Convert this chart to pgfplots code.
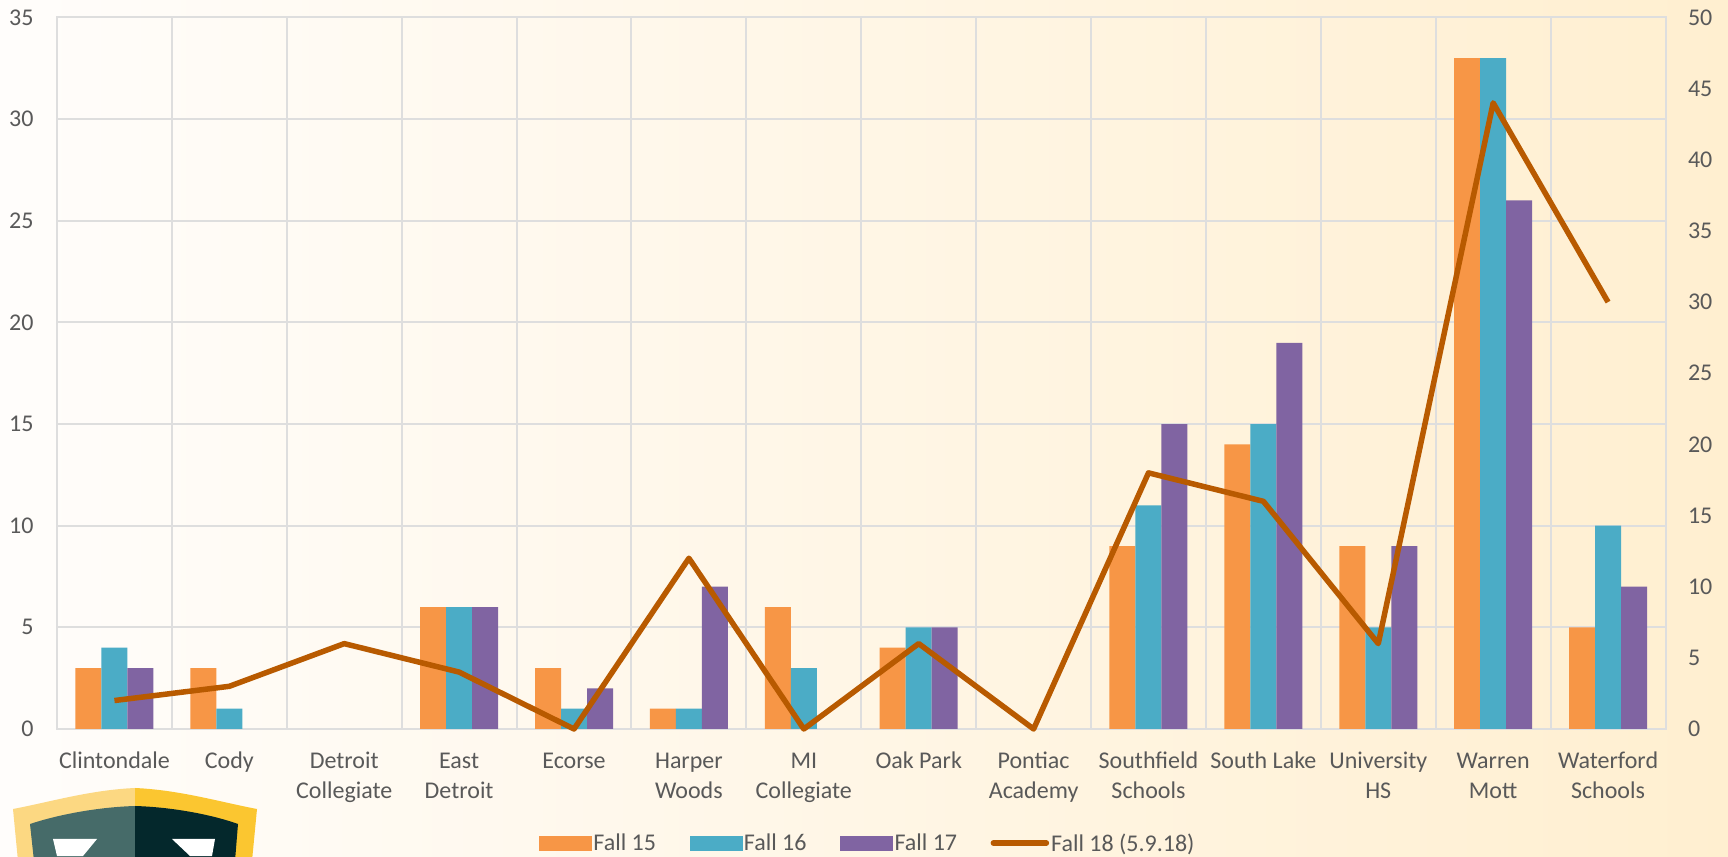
\documentclass[border=0pt]{standalone}
\usepackage{pgfplots}
\pgfplotsset{compat=1.18}
\usepackage{fontspec}
\setmainfont{Carlito}
\definecolor{txt}{HTML}{595959}
\definecolor{gridc}{HTML}{DEDEDE}
\definecolor{cA}{HTML}{F79646}
\definecolor{cB}{HTML}{4BACC6}
\definecolor{cC}{HTML}{8064A2}
\definecolor{cD}{HTML}{B85A00}
\definecolor{bgL}{HTML}{FFFDFB}
\definecolor{bgR}{HTML}{FFEFD0}
\definecolor{goldL}{HTML}{FCD882}
\definecolor{goldR}{HTML}{FBC630}
\definecolor{darkL}{HTML}{466B69}
\definecolor{darkR}{HTML}{04282C}
\newcommand{\s}{\strut}
\begin{document}
\begin{tikzpicture}[x=1pt,y=1pt]
\path[clip] (0,0) rectangle (1728,856);
\shade[left color=bgL, right color=bgR] (0,0) rectangle (1728,856);
% logo
\fill[goldL] (135,68) .. controls (90,66) and (50,54) .. (13,47) -- (18,-5) -- (135,-5) -- cycle;
\fill[goldR] (135,68) .. controls (180,66) and (220,54) .. (257,47) -- (252,-5) -- (135,-5) -- cycle;
\fill[darkL] (135,50) .. controls (100,49) and (60,42) .. (30,32) -- (34,-5) -- (135,-5) -- cycle;
\fill[darkR] (135,50) .. controls (170,49) and (210,42) .. (238,32) -- (235,-5) -- (135,-5) -- cycle;
\fill[white] (53,17) -- (97,17) -- (83,0) -- (57,0) -- cycle;
\fill[white] (172,17) -- (215,17) -- (212,0) -- (190,0) -- cycle;
\begin{axis}[
  at={(57pt,127pt)}, anchor=south west, scale only axis,
  width=1608.5pt, height=711.5pt,
  xmin=-0.5, xmax=13.5, ymin=0, ymax=35,
  ybar=0pt, bar width=26pt,
  axis line style={gridc, line width=2pt},
  xtick={0,...,13},
  xticklabels={\s Clintondale,\s Cody,\s Detroit\\\s Collegiate,\s East\\\s Detroit,\s Ecorse,\s Harper\\\s Woods,\s MI\\\s Collegiate,\s Oak Park,\s Pontiac\\\s Academy,\s Southfield\\\s Schools,\s South Lake,\s University\\\s HS,\s Warren\\\s Mott,\s Waterford\\\s Schools},
  xticklabel style={align=center, text=txt, font=\fontsize{24}{30}\selectfont},
  yticklabel style={text=txt, font=\fontsize{24}{28}\selectfont},
  /pgf/number format/assume math mode=true,
  ytick={0,5,...,35},
  extra x ticks={-0.5,0.5,...,13.5}, extra x tick labels={},
  extra x tick style={grid=major, major grid style={gridc, line width=2pt}, tick style={draw=none}},
  ymajorgrids, grid style={gridc, line width=2pt},
  major tick style={draw=none},
  xticklabel shift=11pt, yticklabel shift=20pt,
]
\addplot[fill=cA, draw=none] coordinates {(0,3)(1,3)(3,6)(4,3)(5,1)(6,6)(7,4)(9,9)(10,14)(11,9)(12,33)(13,5)};
\addplot[fill=cB, draw=none] coordinates {(0,4)(1,1)(3,6)(4,1)(5,1)(6,3)(7,5)(9,11)(10,15)(11,5)(12,33)(13,10)};
\addplot[fill=cC, draw=none] coordinates {(0,3)(3,6)(4,2)(5,7)(7,5)(9,15)(10,19)(11,9)(12,26)(13,7)};
\end{axis}
\begin{axis}[
  at={(57pt,127pt)}, anchor=south west, scale only axis,
  width=1608.5pt, height=711.5pt,
  xmin=-0.5, xmax=13.5, ymin=0, ymax=50, clip=false,
  axis x line=none, axis y line*=right, axis line style={draw=none},
  ytick={0,5,...,50}, major tick style={draw=none},
  yticklabel style={text=txt, font=\fontsize{24}{28}\selectfont},
  /pgf/number format/assume math mode=true,
  yticklabel shift=19pt,
  legend style={at={(rel axis cs:0,0)}, anchor=west, xshift=482pt, yshift=-114pt, draw=none, fill=none, legend columns=4, font=\fontsize{24}{26}\selectfont\color{txt}, inner sep=0pt, outer sep=0pt,
    /tikz/every even column/.style={column sep=9pt}},
]
\addlegendimage{legend image code/.code={\fill[cA] (0pt,-7pt) rectangle (52pt,7pt);}}
\addlegendentry{Fall 15\rule{22.5pt}{0pt}}
\addlegendimage{legend image code/.code={\fill[cB] (0pt,-7pt) rectangle (52pt,7pt);}}
\addlegendentry{Fall 16\rule{22.5pt}{0pt}}
\addlegendimage{legend image code/.code={\fill[cC] (0pt,-7pt) rectangle (52pt,7pt);}}
\addlegendentry{Fall 17\rule{22.5pt}{0pt}}
\addplot[cD, line width=5.5pt, line join=round, legend image code/.code={\draw[cD, line width=5.5pt, line cap=round] (2pt,0pt) -- (55pt,0pt);}] coordinates {(0,2)(1,3)(2,6)(3,4)(4,0)(5,12)(6,0)(7,6)(8,0)(9,18)(10,16)(11,6)(12,44)(13,30)};
\addlegendentry{Fall 18 (5.9.18)}
\end{axis}
\end{tikzpicture}
\end{document}
